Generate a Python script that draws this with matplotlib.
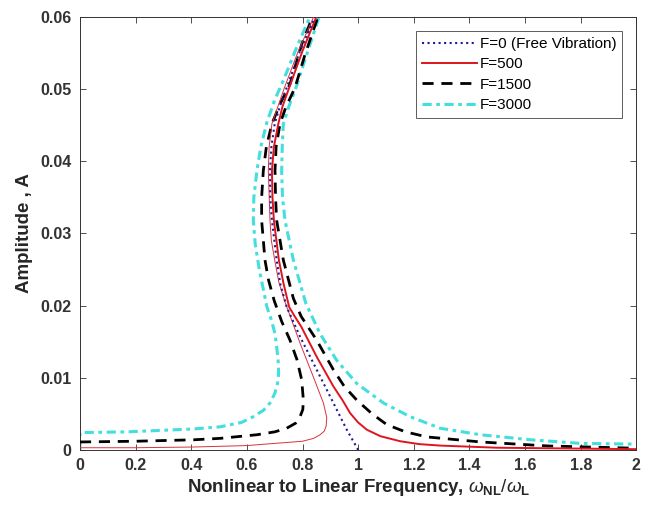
import matplotlib
matplotlib.use('Agg')
import matplotlib.pyplot as plt

plt.rcParams['font.family'] = ['Liberation Sans', 'DejaVu Sans']
plt.rcParams['mathtext.fontset'] = 'custom'
plt.rcParams['mathtext.rm'] = 'Liberation Sans'
plt.rcParams['mathtext.it'] = 'Liberation Sans:italic'
plt.rcParams['mathtext.bf'] = 'Liberation Sans:bold'

# free vibration backbone (F=0)
w_free = [1.0, 0.959, 0.911, 0.851, 0.791, 0.743, 0.720, 0.707, 0.690, 0.684, 0.683, 0.688, 0.700,
          0.720, 0.743, 0.791, 0.845]
a_free = [0.0, 0.0028, 0.0065, 0.0111, 0.0157, 0.0198, 0.0230, 0.0263, 0.0318, 0.0350, 0.0387, 0.0420,
          0.0452, 0.0478, 0.0502, 0.0553, 0.0600]

# F=500, upper (resonant) branch
w_500 = [0.862, 0.800, 0.752, 0.728, 0.713, 0.697, 0.690, 0.692, 0.697, 0.715, 0.732, 0.752, 0.772,
         0.795, 0.851, 0.911, 0.945, 0.971, 1.000, 1.031, 1.080, 1.151, 1.220, 1.295, 1.500, 1.750, 2.0]
a_500 = [0.0612, 0.0553, 0.0502, 0.0476, 0.0452, 0.0420, 0.0387, 0.0350, 0.0318, 0.0263, 0.0230,
         0.0198, 0.0185, 0.0171, 0.0129, 0.0088, 0.0068, 0.0051, 0.0038, 0.0028, 0.0019, 0.0012,
         0.0008, 0.0006, 0.0003, 0.0002, 0.0001]
# F=500, lower branch
w_500b = [0.0, 0.2, 0.408, 0.6, 0.7, 0.8, 0.840, 0.863, 0.878, 0.885, 0.887, 0.875, 0.839, 0.791,
          0.737, 0.715, 0.700, 0.688, 0.683, 0.677, 0.680, 0.690, 0.735, 0.785, 0.840, 0.862]
a_500b = [0.0003, 0.0003, 0.0004, 0.0006, 0.0009, 0.0012, 0.0016, 0.0021, 0.0026, 0.0033, 0.0045,
          0.0065, 0.0101, 0.0148, 0.0205, 0.0232, 0.0263, 0.0290, 0.0318, 0.0387, 0.0420, 0.0452,
          0.0502, 0.0553, 0.0600, 0.0612]

# F=1500
w_1500 = [0.0, 0.2, 0.408, 0.504, 0.636, 0.700, 0.743, 0.775, 0.791, 0.801, 0.803, 0.797, 0.780,
          0.755, 0.725, 0.698, 0.678, 0.665, 0.653, 0.653, 0.659, 0.670, 0.690, 0.720, 0.755, 0.797,
          0.833, 0.845, 0.851, 0.809, 0.773, 0.740, 0.719, 0.705, 0.701, 0.703, 0.707, 0.731, 0.767,
          0.795, 0.851, 0.911, 0.950, 0.995, 1.050, 1.103, 1.170, 1.247, 1.440, 1.680, 2.0]
a_1500 = [0.0011, 0.0012, 0.0014, 0.0016, 0.0021, 0.0025, 0.0030, 0.0037, 0.0046, 0.0056, 0.0069,
          0.0097, 0.0125, 0.0152, 0.0178, 0.0207, 0.0235, 0.0263, 0.0318, 0.0350, 0.0387, 0.0420,
          0.0452, 0.0480, 0.0507, 0.0562, 0.0597, 0.0612, 0.0595, 0.0548, 0.0502, 0.0475, 0.0452,
          0.0420, 0.0387, 0.0350, 0.0318, 0.0263, 0.0210, 0.0185, 0.0152, 0.0111, 0.0088, 0.0069,
          0.0050, 0.0035, 0.0025, 0.0018, 0.0011, 0.00055, 0.00023]

# F=3000
w_3000 = [0.0, 0.0, 0.168, 0.408, 0.504, 0.580, 0.623, 0.660, 0.683, 0.700, 0.710, 0.714, 0.713,
          0.708, 0.701, 0.688, 0.672, 0.645, 0.630, 0.623, 0.625, 0.636, 0.650, 0.672, 0.700, 0.731,
          0.779, 0.821, 0.840, 0.857, 0.815, 0.773, 0.750, 0.731, 0.727, 0.725, 0.728, 0.737, 0.767,
          0.812, 0.863, 0.923, 0.995, 1.091, 1.187, 1.295, 1.440, 1.620, 1.800, 2.0]
a_3000 = [0.0, 0.0024, 0.0025, 0.0029, 0.0032, 0.0038, 0.0046, 0.0055, 0.0065, 0.0078, 0.0092,
          0.0105, 0.0120, 0.0140, 0.0161, 0.0180, 0.0198, 0.0249, 0.0285, 0.0318, 0.0350, 0.0387,
          0.0420, 0.0454, 0.0485, 0.0512, 0.0558, 0.0595, 0.0615, 0.0597, 0.0548, 0.0498, 0.0475,
          0.0452, 0.0420, 0.0387, 0.0350, 0.0318, 0.0263, 0.0203, 0.0161, 0.0124, 0.0092, 0.0065,
          0.0046, 0.0030, 0.0021, 0.0014, 0.0009, 0.0008]

x_ticks = [0, 0.2, 0.4, 0.6, 0.8, 1, 1.2, 1.4, 1.6, 1.8, 2]
x_labels = ['0', '0.2', '0.4', '0.6', '0.8', '1', '1.2', '1.4', '1.6', '1.8', '2']
y_ticks = [0, 0.01, 0.02, 0.03, 0.04, 0.05, 0.06]
y_labels = ['0', '0.01', '0.02', '0.03', '0.04', '0.05', '0.06']

fig = plt.figure(figsize=(6.53, 5.13), dpi=100)
ax = fig.add_axes([0.1225, 0.123, 0.852, 0.844])

ax.plot(w_free, a_free, ':', color='#1c1c96', lw=1.5, label='F=0 (Free Vibration)', zorder=5)
ax.plot(w_500, a_500, '-', color='#e0141e', lw=1.4, label='F=500', zorder=4)
ax.plot(w_500b, a_500b, '-', color='#d8323c', lw=0.7, zorder=4)
ax.plot(w_1500, a_1500, '--', color='black', lw=2.0, dashes=(4, 2.8), label='F=1500', zorder=3)
ax.plot(w_3000, a_3000, '-.', color='#44dede', lw=2.2, dashes=(3, 1.5, 1.2, 1.5), label='F=3000', zorder=2)

ax.set_xlim(0, 2)
ax.set_ylim(0, 0.06)
ax.set_xticks(x_ticks)
ax.set_xticklabels(x_labels)
ax.set_yticks(y_ticks)
ax.set_yticklabels(y_labels)
for lab in ax.get_xticklabels() + ax.get_yticklabels():
    lab.set_fontweight('bold')
    lab.set_fontsize(11.5)
    lab.set_color('#333333')
ax.tick_params(direction='in', top=True, right=True, length=4, width=0.6, color='#333333', pad=6)
for s in ax.spines.values():
    s.set_linewidth(0.7)
    s.set_color('#333333')

ax.set_xlabel(r'Nonlinear to Linear Frequency, $\omega_{\mathbf{NL}}/\omega_{\mathbf{L}}$',
              fontsize=13.5, fontweight='bold', color='#262626', labelpad=3)
ax.set_ylabel('Amplitude , A', fontsize=13.5, fontweight='bold', color='#262626', labelpad=5)

leg = ax.legend(loc='upper right', bbox_to_anchor=(0.975, 0.968), fontsize=11, frameon=True,
                fancybox=False, edgecolor='#333333', handlelength=3.6, handletextpad=0.15,
                borderpad=0.4, labelspacing=0.42, borderaxespad=0)
leg.get_frame().set_linewidth(0.7)

fig.savefig('out.png', dpi=100)
